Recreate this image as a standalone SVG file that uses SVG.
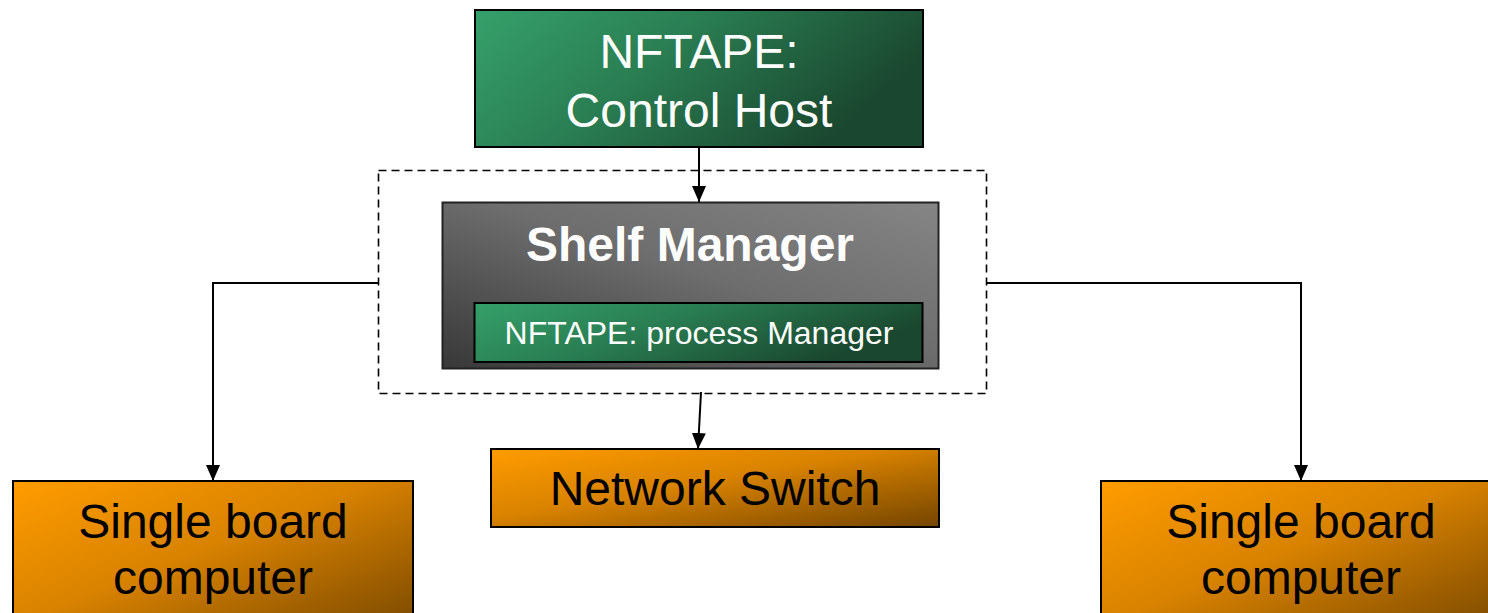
<svg xmlns="http://www.w3.org/2000/svg" width="1488" height="613" viewBox="0 0 1488 613">
  <defs>
    <linearGradient id="gGreen" x1="0" y1="0" x2="1" y2="0.35">
      <stop offset="0" stop-color="#35a06a"/>
      <stop offset="0.45" stop-color="#2a7f53"/>
      <stop offset="1" stop-color="#1a472f"/>
    </linearGradient>
    <linearGradient id="gGray" x1="0" y1="1" x2="1" y2="0">
      <stop offset="0" stop-color="#383838"/>
      <stop offset="0.55" stop-color="#6e6e6e"/>
      <stop offset="1" stop-color="#858585"/>
    </linearGradient>
    <linearGradient id="gOrange" x1="0" y1="0" x2="1" y2="1">
      <stop offset="0" stop-color="#ff9c00"/>
      <stop offset="0.45" stop-color="#d88200"/>
      <stop offset="1" stop-color="#744500"/>
    </linearGradient>
    <marker id="arr" viewBox="0 0 16 14" refX="16" refY="7" markerWidth="16" markerHeight="14" markerUnits="userSpaceOnUse" orient="auto">
      <path d="M0,0 L16,7 L0,14 z" fill="#000"/>
    </marker>
  </defs>
  <style>
    .box { stroke: #000; stroke-width: 2; }
    .conn { fill: none; stroke: #000; stroke-width: 2; }
    .t { font-family: "Liberation Sans", Arial, sans-serif; text-anchor: middle; }
    .w { fill: #fff; }
    .k { fill: #000; }
  </style>

  <g id="connectors">
    <line class="conn" x1="699" y1="147" x2="699" y2="202" marker-end="url(#arr)"/>
    <line class="conn" x1="701" y1="392" x2="698" y2="449" marker-end="url(#arr)"/>
    <polyline class="conn" points="378,283 213,283 213,481" marker-end="url(#arr)"/>
    <polyline class="conn" points="987,283 1301,283 1301,481" marker-end="url(#arr)"/>
  </g>

  <g id="shelf-group">
    <rect x="378.5" y="170.5" width="608" height="223" fill="none" stroke="#000" stroke-width="1.6" stroke-dasharray="8,5"/>
  </g>

  <g id="control-host">
    <rect class="box" x="475" y="10" width="448" height="137" fill="url(#gGreen)"/>
    <text class="t w" x="699" y="68" font-size="48">NFTAPE:</text>
    <text class="t w" x="699" y="127" font-size="48">Control Host</text>
  </g>

  <g id="shelf-manager">
    <rect x="442.5" y="202.5" width="496" height="166" fill="url(#gGray)" stroke="#222" stroke-width="2"/>
    <text class="t w" x="690" y="261" font-size="48" font-weight="bold">Shelf Manager</text>
  </g>

  <g id="process-manager">
    <rect class="box" x="474.5" y="303" width="448" height="59" fill="url(#gGreen)"/>
    <text class="t w" x="699" y="344" font-size="32">NFTAPE: process Manager</text>
  </g>

  <g id="network-switch">
    <rect class="box" x="491" y="449" width="448" height="78" fill="url(#gOrange)"/>
    <text class="t k" x="715" y="505" font-size="48">Network Switch</text>
  </g>

  <g id="sbc-left">
    <rect class="box" x="13" y="481" width="400" height="160" fill="url(#gOrange)"/>
    <text class="t k" x="213" y="538" font-size="48">Single board</text>
    <text class="t k" x="213" y="594" font-size="48">computer</text>
  </g>

  <g id="sbc-right">
    <rect class="box" x="1101" y="481" width="400" height="160" fill="url(#gOrange)"/>
    <text class="t k" x="1301" y="538" font-size="48">Single board</text>
    <text class="t k" x="1301" y="594" font-size="48">computer</text>
  </g>
</svg>
